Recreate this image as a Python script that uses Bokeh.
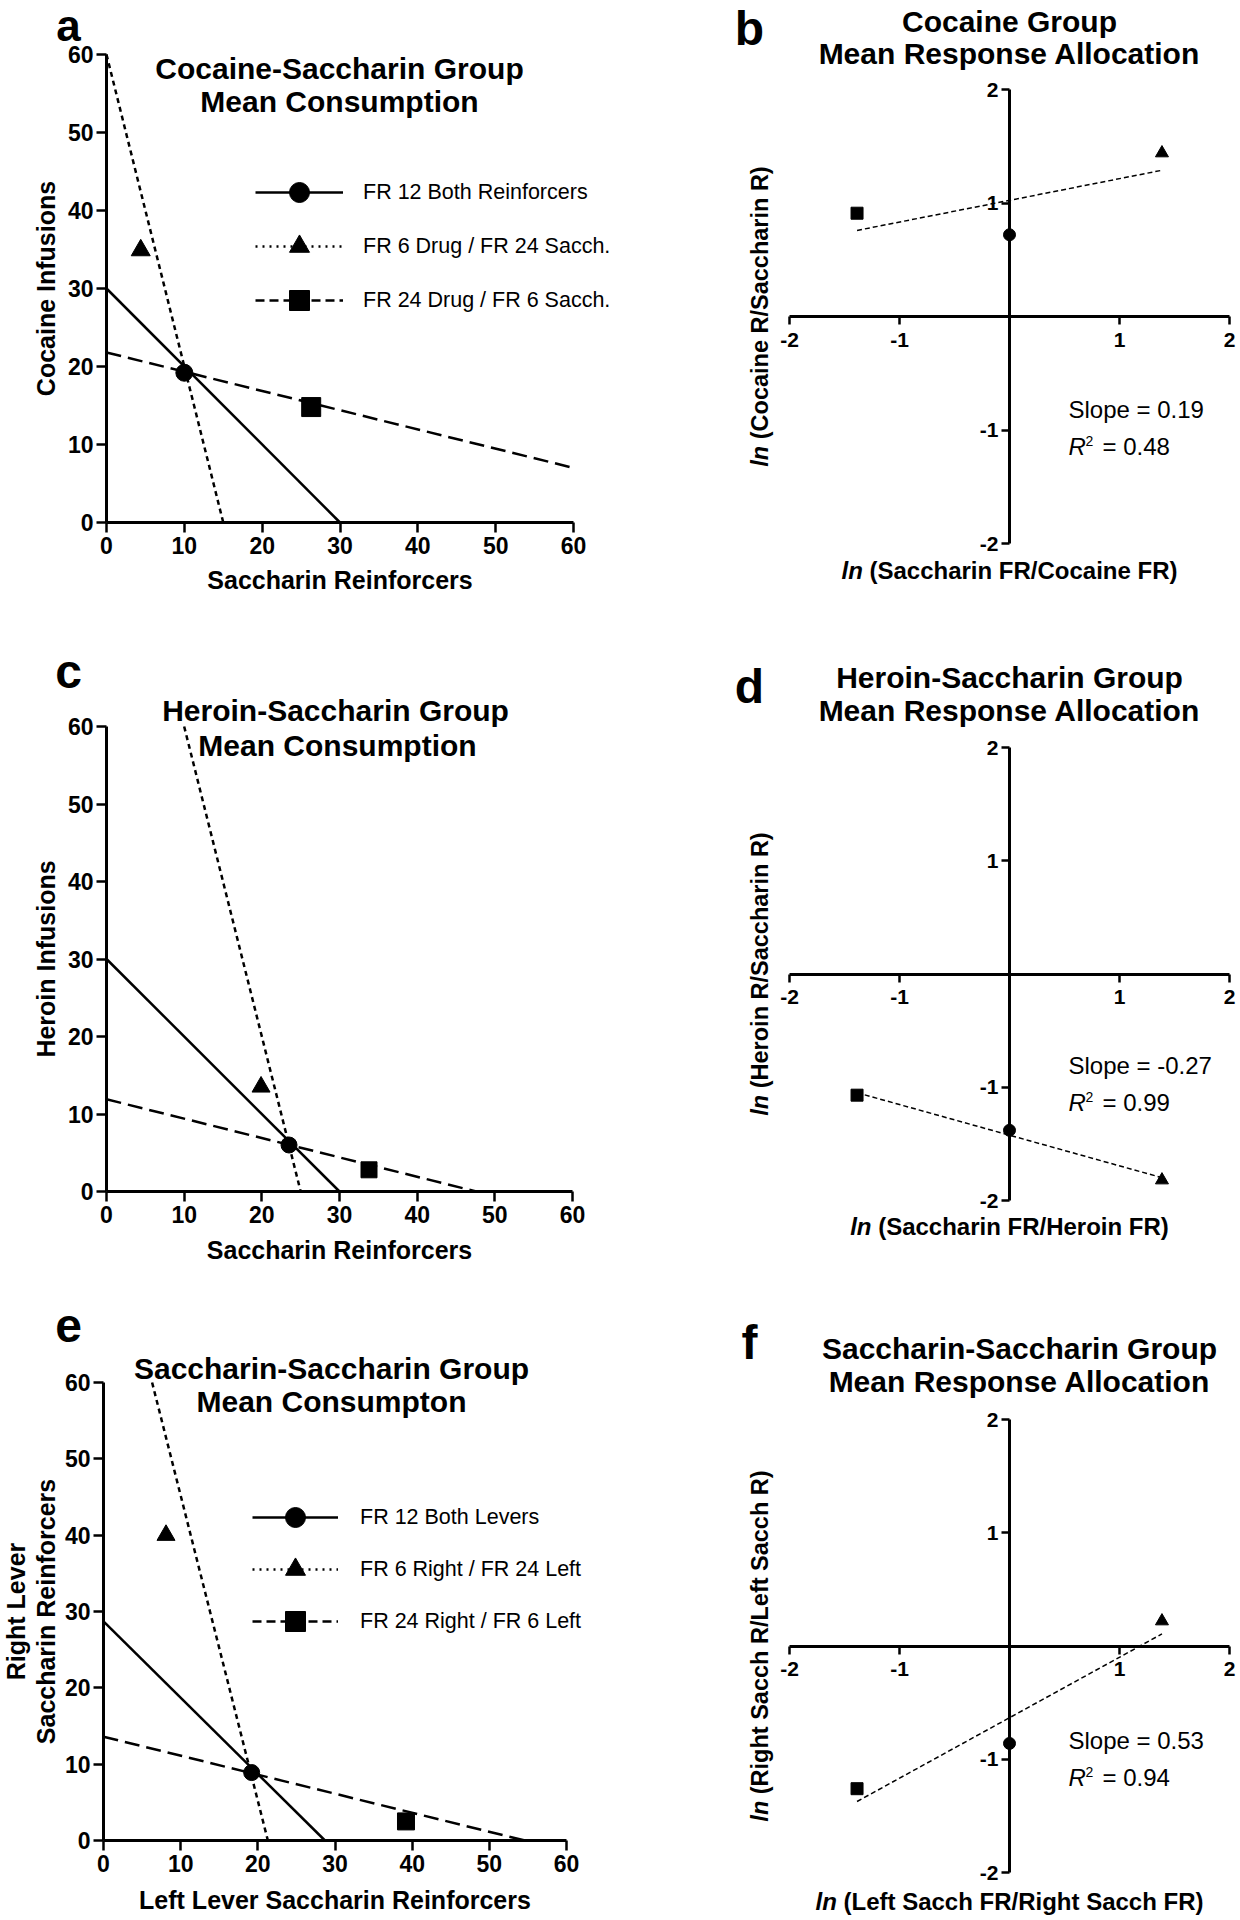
import numpy as np
from math import pi
from bokeh.plotting import figure
from bokeh.models import Range1d, FixedTicker, Label, Legend, LegendItem
from bokeh.layouts import column, row
from bokeh.embed import file_html
from bokeh.resources import INLINE

FONT = "Liberation Sans"

# ---------------- data ----------------
# condition order: FR12 both (circle), FR6 drug / FR24 sacch (triangle), FR24 drug / FR6 sacch (square)
legend_drug = ["FR 12 Both Reinforcers", "FR 6 Drug / FR 24 Sacch.", "FR 24 Drug / FR 6 Sacch."]
legend_sacch = ["FR 12 Both Levers", "FR 6 Right / FR 24 Left", "FR 24 Right / FR 6 Left"]

# a: Cocaine-Saccharin group, mean consumption
a_sacch = [10.0, 4.4, 26.3]
a_cocaine = [19.2, 34.9, 14.8]
a_fr12_x = [0, 30]
a_fr12_y = [30, 0]
a_fr6_x = [0, 15]
a_fr6_y = [60, 0]
a_fr24_x = [0, 60]
a_fr24_y = [21.8, 7.0]

# c: Heroin-Saccharin group, mean consumption
c_sacch = [23.5, 19.9, 33.8]
c_heroin = [6.0, 13.5, 2.8]
c_fr12_x = [0, 30]
c_fr12_y = [30, 0]
c_fr6_x = [10, 25]
c_fr6_y = [60, 0]
c_fr24_x = [0, 47.6]
c_fr24_y = [11.9, 0]

# e: Saccharin-Saccharin group, mean consumption
e_left = [19.2, 8.1, 39.2]
e_right = [8.9, 40.0, 2.5]
e_fr12_x = [0, 28.7]
e_fr12_y = [28.7, 0]
e_fr6_x = [6.3, 21.3]
e_fr6_y = [60, 0]
e_fr24_x = [0, 54.6]
e_fr24_y = [13.6, 0]

# b, d, f: response allocation, x = ln(FR ratio)
ln_ratio = [0.0, 1.386, -1.386]
b_alloc = [0.72, 1.44, 0.91]
d_alloc = [-1.38, -1.82, -1.07]
f_alloc = [-0.86, 0.22, -1.26]

consumption_ticks = [0, 10, 20, 30, 40, 50, 60]
alloc_ticks = [-2, -1, 1, 2]
alloc_tick_text = {-2: "-2", -1: "-1", 1: "1", 2: "2"}

MARKERS = ["circle", "triangle", "square"]

# ---------------- layout (page px, page origin at top-left) ----------------
W_L, W_R = 620, 620
ROWS = [(0, 640), (640, 650), (1290, 630)]
X_L, X_R = 0, 620

# data areas (left, top, width, height) in page px
FR_A = (106, 54, 467, 468)
FR_B = (789, 89, 440, 454)
FR_C = (106, 726, 466, 465)
FR_D = (789, 747, 440, 453)
FR_E = (103, 1382, 463, 458)
FR_F = (789, 1419, 440, 453)

BOLD_W = {' ': 278, '(': 333, ')': 333, '/': 278, 'C': 722, 'F': 611, 'H': 722, 'L': 611,
          'R': 722, 'S': 667, 'a': 556, 'c': 556, 'e': 556, 'f': 333, 'g': 611, 'h': 611,
          'i': 278, 'l': 278, 'n': 611, 'o': 611, 'r': 389, 't': 333}


def tw(s, size):
    return sum(BOLD_W.get(ch, 556) for ch in s) * size / 1000.0


class Panel:
    def __init__(self, fig_x0, fig_y0, W, H, area, xlim, ylim):
        FL, FT, FW, FH = area
        sx = FW / (xlim[1] - xlim[0])
        sy = FH / (ylim[1] - ylim[0])
        x_start = xlim[0] - (FL - fig_x0) / sx
        x_end = x_start + W / sx
        y_end = ylim[1] + (FT - fig_y0) / sy
        y_start = y_end - H / sy
        self.x0, self.y0, self.W, self.H = fig_x0, fig_y0, W, H
        p = figure(width=W, height=H, x_range=Range1d(x_start, x_end),
                   y_range=Range1d(y_start, y_end), output_backend="svg",
                   toolbar_location=None, title=None, min_border=0,
                   background_fill_color="white", border_fill_color="white")
        p.outline_line_color = None
        p.xgrid.grid_line_color = None
        p.ygrid.grid_line_color = None
        self.p = p

    def axes(self, ticks, bounds, size, tick_out, so_x, so_y, overrides=None):
        p = self.p
        p.xaxis[0].fixed_location = 0
        p.yaxis[0].fixed_location = 0
        for ax, so in ((p.xaxis[0], so_x), (p.yaxis[0], so_y)):
            ax.ticker = FixedTicker(ticks=ticks)
            ax.bounds = bounds
            ax.axis_line_width = 3
            ax.axis_line_color = "black"
            ax.major_tick_line_width = 2.5
            ax.major_tick_line_color = "black"
            ax.major_tick_in = 0
            ax.major_tick_out = tick_out
            ax.minor_tick_line_color = None
            ax.major_label_text_font = FONT
            ax.major_label_text_font_style = "bold"
            ax.major_label_text_font_size = f"{size}px"
            ax.major_label_text_color = "black"
            ax.major_label_standoff = so
            if overrides:
                ax.major_label_overrides = overrides

    # X, Y: anchor in page px; vertical anchor is the visual middle of the text
    def text(self, X, Y, text, size, style="bold", align="left", angle=0.0):
        self.p.add_layout(Label(x=X - self.x0, y=(self.y0 + self.H) - Y,
                                x_units="screen", y_units="screen",
                                text=text, text_font=FONT, text_font_size=f"{size}px",
                                text_font_style=style, text_align=align,
                                text_baseline="middle", angle=angle, text_color="black"))

    def ln_xlabel(self, Xc, Yc, rest, size=24):
        w_ln, w_sp, w_rest = tw("ln", size), tw(" ", size), tw(rest, size)
        x0 = Xc - (w_ln + w_sp + w_rest) / 2
        self.text(x0, Yc, "ln", size, "bold italic")
        self.text(x0 + w_ln + w_sp, Yc, rest, size, "bold")

    def ln_ylabel(self, Xc, Yc, rest, size=23.5):
        w_ln, w_sp, w_rest = tw("ln", size), tw(" ", size), tw(rest, size)
        y0 = Yc + (w_ln + w_sp + w_rest) / 2
        self.text(Xc, y0, "ln", size, "bold italic", angle=pi / 2)
        self.text(Xc, y0 - w_ln - w_sp, rest, size, "bold", angle=pi / 2)

    def slope(self, X, Yc1, Yc2, slope_str, r2_str):
        self.text(X, Yc1, slope_str, 24, "normal")
        self.text(X, Yc2, "R", 24, "italic")
        self.text(X + 17, Yc2 - 6, "2", 14, "normal")
        self.text(X + 34, Yc2, r2_str, 24, "normal")

    def legend(self, labels, glyph_left, bottom_y, glyph_w, spacing, standoff):
        p = self.p
        nan = np.array([np.nan])
        dashes = ["solid", "2 5", "9 5"]
        items = []
        for i, lab in enumerate(labels):
            rl = p.line(nan, nan, line_width=2.5, line_color="black", line_dash=dashes[i])
            rm = p.scatter(nan, nan, marker=MARKERS[i], size=18, color="black")
            items.append(LegendItem(label=lab, renderers=[rl, rm]))
        leg = Legend(items=items, location=(glyph_left - self.x0, (self.y0 + self.H) - bottom_y),
                     glyph_width=glyph_w, glyph_height=50, spacing=spacing, padding=0, margin=0,
                     label_standoff=standoff, label_text_font=FONT, label_text_font_size="21.5px",
                     label_text_color="black", border_line_color=None, background_fill_alpha=0)
        p.add_layout(leg)


def consumption_panel(fig_x0, fig_y0, W, H, area, xs, ys, lines, msizes):
    pn = Panel(fig_x0, fig_y0, W, H, area, (0, 60), (0, 60))
    pn.axes(consumption_ticks, (0, 60), 23, 10, 4, 3)
    for (lx, ly, dash) in lines:
        pn.p.line(lx, ly, line_width=2.5, line_color="black", line_dash=dash)
    for i, m in enumerate(MARKERS):
        pn.p.scatter([xs[i]], [ys[i]], marker=m, size=msizes[i], color="black")
    return pn


def alloc_panel(fig_x0, fig_y0, W, H, area, ys, msizes):
    pn = Panel(fig_x0, fig_y0, W, H, area, (-2, 2), (-2, 2))
    pn.axes(alloc_ticks, (-2, 2), 21, 8, 8, 3, alloc_tick_text)
    xs = np.array(ln_ratio)
    yv = np.array(ys)
    k, b0 = np.polyfit(xs, yv, 1)
    fx = np.array([xs.min(), xs.max()])
    pn.p.line(fx, k * fx + b0, line_width=1.5, line_color="black", line_dash="5 3")
    for i, m in enumerate(MARKERS):
        pn.p.scatter([ln_ratio[i]], [ys[i]], marker=m, size=msizes[i], color="black")
    return pn


TITLE = 30
LETTER = 48
AXLAB = 25

# ---------------- panel a ----------------
pa = consumption_panel(X_L, ROWS[0][0], W_L, ROWS[0][1], FR_A, a_sacch, a_cocaine,
                       [(a_fr12_x, a_fr12_y, "solid"), (a_fr6_x, a_fr6_y, "5 4"),
                        (a_fr24_x, a_fr24_y, "15 7")], [17, 19, 19])
pa.legend(legend_drug, 255, 325, 88, 4, 20)
pa.text(68, 25, "a", 44, "bold", "center")
pa.text(339, 67.5, "Cocaine-Saccharin Group", TITLE, "bold", "center")
pa.text(339, 101, "Mean Consumption", TITLE, "bold", "center")
pa.text(45, 288, "Cocaine Infusions", AXLAB, "bold", "center", pi / 2)
pa.text(339.5, 579, "Saccharin Reinforcers", AXLAB, "bold", "center")

# ---------------- panel b ----------------
pb = alloc_panel(X_R, ROWS[0][0], W_R, ROWS[0][1], FR_B, b_alloc, [12, 13, 12])
pb.text(749, 28, "b", LETTER, "bold", "center")
pb.text(1009, 20.5, "Cocaine Group", TITLE, "bold", "center")
pb.text(1009, 52.5, "Mean Response Allocation", TITLE, "bold", "center")
pb.ln_ylabel(759, 316, "(Cocaine R/Saccharin R)")
pb.ln_xlabel(1009, 569.5, "(Saccharin FR/Cocaine FR)")
pb.slope(1068, 409, 446, "Slope = 0.19", "= 0.48")

# ---------------- panel c ----------------
pc = consumption_panel(X_L, ROWS[1][0], W_L, ROWS[1][1], FR_C, c_sacch, c_heroin,
                       [(c_fr12_x, c_fr12_y, "solid"), (c_fr6_x, c_fr6_y, "5 4"),
                        (c_fr24_x, c_fr24_y, "15 7")], [16, 18, 16])
pc.text(68, 671, "c", LETTER, "bold", "center")
pc.text(335, 710, "Heroin-Saccharin Group", TITLE, "bold", "center")
pc.text(337, 744.5, "Mean Consumption", TITLE, "bold", "center")
pc.text(45, 958.5, "Heroin Infusions", AXLAB, "bold", "center", pi / 2)
pc.text(339, 1249, "Saccharin Reinforcers", AXLAB, "bold", "center")

# ---------------- panel d ----------------
pd_ = alloc_panel(X_R, ROWS[1][0], W_R, ROWS[1][1], FR_D, d_alloc, [12, 13, 12])
pd_.text(749, 686, "d", LETTER, "bold", "center")
pd_.text(1009, 677, "Heroin-Saccharin Group", TITLE, "bold", "center")
pd_.text(1009, 710, "Mean Response Allocation", TITLE, "bold", "center")
pd_.ln_ylabel(759, 973.5, "(Heroin R/Saccharin R)")
pd_.ln_xlabel(1009, 1226, "(Saccharin FR/Heroin FR)")
pd_.slope(1068, 1065, 1102, "Slope = -0.27", "= 0.99")

# ---------------- panel e ----------------
pe = consumption_panel(X_L, ROWS[2][0], W_L, ROWS[2][1], FR_E, e_left, e_right,
                       [(e_fr12_x, e_fr12_y, "solid"), (e_fr6_x, e_fr6_y, "5 4"),
                        (e_fr24_x, e_fr24_y, "15 7")], [16, 18, 17])
pe.legend(legend_sacch, 252, 1646, 86, 2, 22)
pe.text(68, 1325, "e", LETTER, "bold", "center")
pe.text(331, 1368, "Saccharin-Saccharin Group", TITLE, "bold", "center")
pe.text(331, 1401, "Mean Consumpton", TITLE, "bold", "center")
pe.text(15, 1611, "Right Lever", AXLAB, "bold", "center", pi / 2)
pe.text(45.5, 1611, "Saccharin Reinforcers", AXLAB, "bold", "center", pi / 2)
pe.text(334.5, 1899, "Left Lever Saccharin Reinforcers", AXLAB, "bold", "center")

# ---------------- panel f ----------------
pf = alloc_panel(X_R, ROWS[2][0], W_R, ROWS[2][1], FR_F, f_alloc, [12, 13, 12])
pf.text(749, 1342, "f", LETTER, "bold", "center")
pf.text(1019, 1348, "Saccharin-Saccharin Group", TITLE, "bold", "center")
pf.text(1019, 1381, "Mean Response Allocation", TITLE, "bold", "center")
pf.ln_ylabel(759, 1645.5, "(Right Sacch R/Left Sacch R)")
pf.ln_xlabel(1009, 1901, "(Left Sacch FR/Right Sacch FR)")
pf.slope(1068, 1740, 1777, "Slope = 0.53", "= 0.94")

layout = column(row(pa.p, pb.p), row(pc.p, pd_.p), row(pe.p, pf.p))
open("out.html", "w").write(file_html(layout, INLINE, title="Mean consumption and response allocation"))
